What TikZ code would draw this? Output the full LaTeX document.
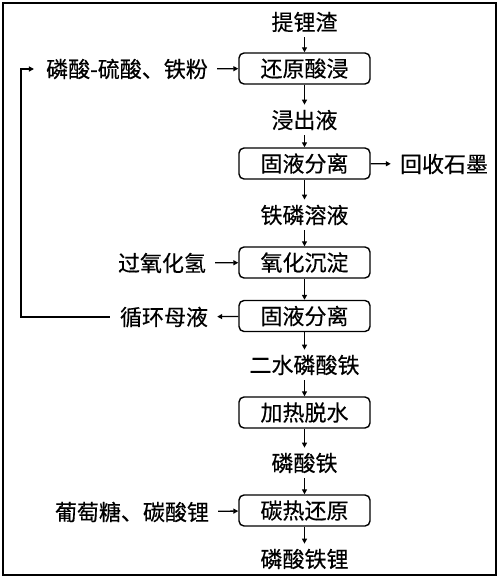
\documentclass[tikz,border=0pt]{standalone}
\usepackage{fontspec}
\setmainfont{Noto Sans CJK SC}[FakeBold=0.4]
\usetikzlibrary{arrows.meta}
\begin{document}
\begin{tikzpicture}[x=1pt,y=-1pt,
  font=\fontsize{22pt}{26pt}\selectfont,
  procbox/.style={draw, line width=1.4pt, rounded corners=5pt, minimum width=131pt, minimum height=31pt, inner sep=0pt},
  flowtxt/.style={inner xsep=0pt, inner ysep=5pt},
  sidetxt/.style={inner xsep=9pt, inner ysep=0pt},
  arr/.style={line width=1.3pt, -{Triangle[length=5pt,width=5pt]}}]
\useasboundingbox (0,0) rectangle (503,584);
\draw[line width=2pt] (3,3) rectangle (496,575);
% process boxes
\node[procbox] (b1) at (304.5,68.5) {还原酸浸};
\node[procbox] (b2) at (304.5,163.5) {固液分离};
\node[procbox] (b3) at (304.5,262.5) {氧化沉淀};
\node[procbox] (b4) at (304.5,316) {固液分离};
\node[procbox] (b5) at (304.5,412.5) {加热脱水};
\node[procbox] (b6) at (304.5,510.5) {碳热还原};
% flow texts
\node[flowtxt] (t0) at (304.5,22) {提锂渣};
\node[flowtxt] (t1) at (304.5,120) {浸出液};
\node[flowtxt] (t2) at (304.5,215) {铁磷溶液};
\node[flowtxt] (t4) at (304.5,365) {二水磷酸铁};
\node[flowtxt] (t5) at (304.5,463) {磷酸铁};
\node[flowtxt] (t6) at (304.5,559) {磷酸铁锂};
% side texts
\node[sidetxt] (s1) at (127,69) {磷酸-硫酸、铁粉};
\node[sidetxt] (s2) at (444,164) {回收石墨};
\node[sidetxt] (s3) at (162,263) {过氧化氢};
\node[sidetxt] (s4) at (164,317) {循环母液};
\node[sidetxt] (s6) at (132,512) {葡萄糖、碳酸锂};
% main flow
\draw[arr] (t0) -- (b1);
\draw[arr] (b1) -- (t1);
\draw[arr] (t1) -- (b2);
\draw[arr] (b2) -- (t2);
\draw[arr] (t2) -- (b3);
\draw[arr] (b3) -- (b4);
\draw[arr] (b4) -- (t4);
\draw[arr] (t4) -- (b5);
\draw[arr] (b5) -- (t5);
\draw[arr] (t5) -- (b6);
\draw[arr] (b6) -- (t6);
% side arrows
\draw[arr] (s1) -- (b1);
\draw[arr] (b2) -- (s2);
\draw[arr] (s3) -- (b3);
\draw[arr] (b4) -- (s4);
\draw[arr] (s6) -- (b6);
% recycle loop
\coordinate (l1) at (21,317);
\coordinate (l2) at (21,69);
\draw[arr] ([xshift=-1pt]s4.west) -- (l1) -- (l2) -- ([xshift=-3pt]s1.west);
\end{tikzpicture}
\end{document}
